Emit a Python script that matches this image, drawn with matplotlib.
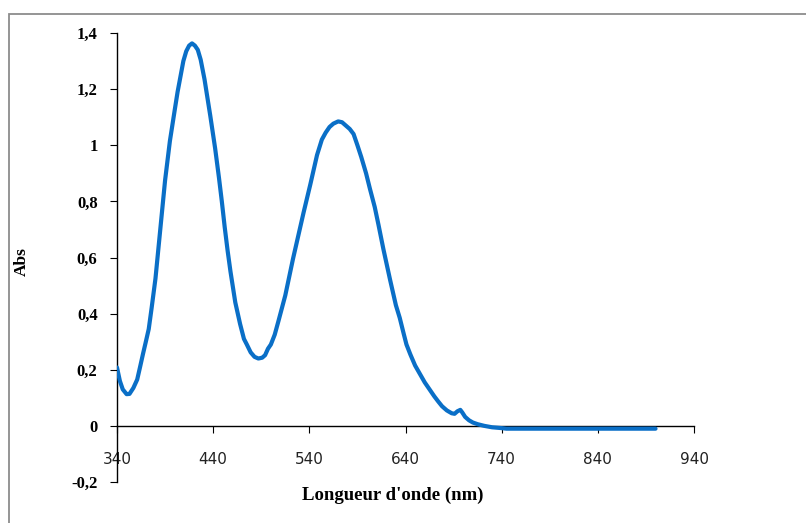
import matplotlib
matplotlib.use("Agg")
import matplotlib.pyplot as plt
from matplotlib.patches import Rectangle
from matplotlib.ticker import FuncFormatter

# absorption spectrum
wavelength = [340, 343, 346, 350, 353, 357, 361, 364, 367, 370, 373, 376, 380, 385,
              390, 395, 400, 403, 406, 409, 412, 415, 418, 421, 424, 427, 431, 434,
              437, 442, 446, 449, 452, 455, 458, 463, 468, 472, 475, 479, 483, 487,
              491, 494, 497, 500, 504, 508, 515, 523, 528, 534, 541, 548, 553, 557,
              561, 565, 570, 574, 578, 582, 586, 590, 594, 599, 603, 608, 612, 617,
              624, 630, 634, 638, 641, 645, 650, 655, 660, 666, 670, 674, 678, 683,
              688, 691, 694, 697, 699, 702, 706, 710, 715, 722, 730, 740, 745, 800,
              850, 900]
absorbance = [0.208, 0.16, 0.13, 0.113, 0.114, 0.135, 0.165, 0.21, 0.256, 0.3, 0.345,
              0.42, 0.525, 0.7, 0.875, 1.015, 1.125, 1.19, 1.245, 1.3, 1.335, 1.355,
              1.363, 1.355, 1.34, 1.305, 1.235, 1.17, 1.105, 0.99, 0.885, 0.8, 0.708,
              0.625, 0.55, 0.44, 0.363, 0.31, 0.29, 0.262, 0.246, 0.24, 0.243, 0.252,
              0.275, 0.29, 0.325, 0.375, 0.465, 0.595, 0.67, 0.76, 0.86, 0.965, 1.02,
              1.045, 1.065, 1.077, 1.085, 1.082, 1.07, 1.058, 1.04, 1.0, 0.958, 0.9,
              0.845, 0.78, 0.715, 0.63, 0.52, 0.43, 0.385, 0.33, 0.29, 0.255, 0.215,
              0.185, 0.155, 0.125, 0.105, 0.087, 0.07, 0.055, 0.045, 0.043, 0.052,
              0.057, 0.048, 0.032, 0.02, 0.012, 0.006, 0.0, -0.005, -0.008, -0.01,
              -0.01, -0.01, -0.01]

x_ticks = [340, 440, 540, 640, 740, 840, 940]
y_ticks = [-0.2, 0, 0.2, 0.4, 0.6, 0.8, 1, 1.2, 1.4]

fig = plt.figure(figsize=(8.06, 5.23), dpi=100)
ax = fig.add_axes([117 / 806, 1 - 482 / 523, 577 / 806, 449 / 523])

# outer chart border (only left and top edges show)
fig.patches.append(Rectangle((9 / 806, -0.5), 2, 1 - 14 / 523 + 0.5,
                             transform=fig.transFigure, fill=False,
                             edgecolor="#8c8c8c", linewidth=1.3))

ax.plot(wavelength, absorbance, color="#0a6fc7", linewidth=3.0,
        solid_joinstyle="round", solid_capstyle="round", zorder=3)

ax.set_xlim(340, 940)
ax.set_ylim(-0.2, 1.4)
ax.spines["top"].set_visible(False)
ax.spines["right"].set_visible(False)
ax.spines["bottom"].set_position(("data", 0))
ax.spines["left"].set_linewidth(1.0)
ax.spines["bottom"].set_linewidth(1.0)

ax.set_xticks(x_ticks)
ax.set_yticks(y_ticks)
ax.yaxis.set_major_formatter(FuncFormatter(
    lambda v, p: ("%g" % round(v, 1)).replace(".", ",")))
ax.tick_params(axis="x", direction="out", length=5, pad=13.5,
               labelsize=11, labelcolor="#222222")
ax.tick_params(axis="y", direction="out", length=5, pad=9)
for lab in ax.get_yticklabels():
    lab.set_fontfamily("Liberation Serif")
    lab.set_fontweight("bold")
    lab.set_fontsize(12)

fig.text(393 / 806, 1 - 495 / 523, "Longueur d'onde (nm)", ha="center", va="center",
         fontfamily="Liberation Serif", fontweight="bold", fontsize=13.5)
fig.text(22 / 806, 1 - 262 / 523, "Abs", ha="center", va="center", rotation=90,
         fontfamily="Liberation Serif", fontweight="bold", fontsize=12.5)

fig.savefig("out.png", dpi=100)
